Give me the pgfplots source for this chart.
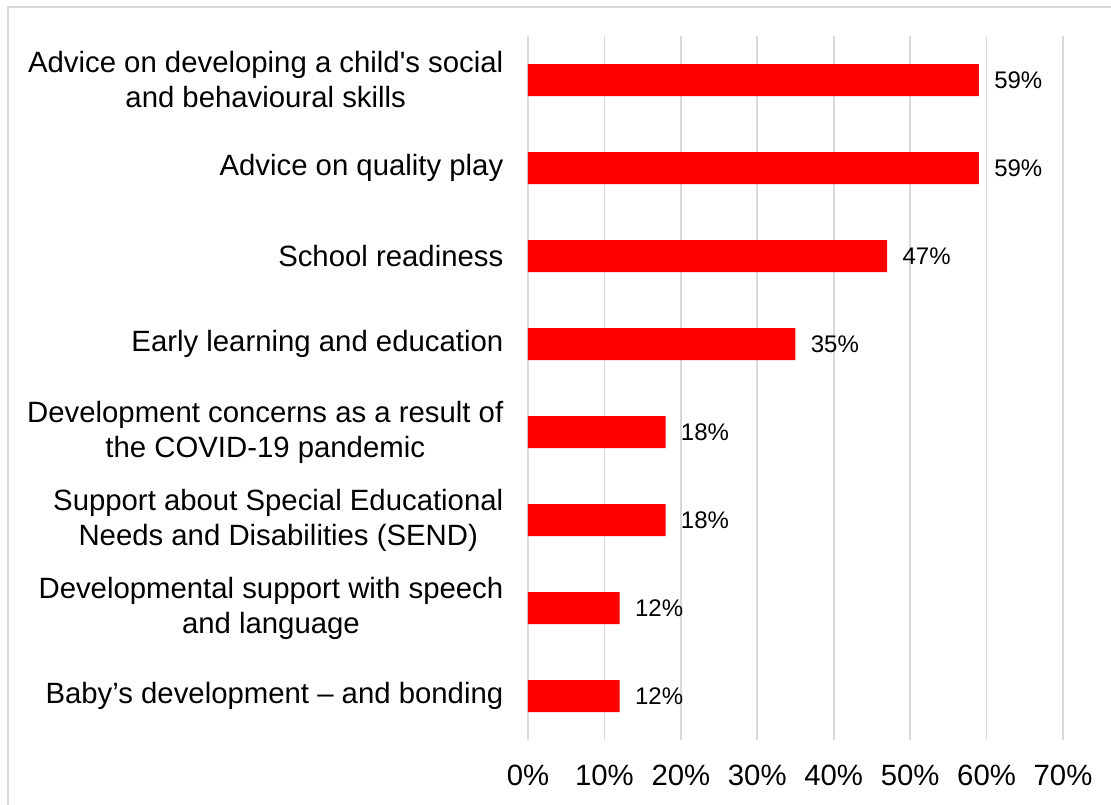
\documentclass[border=0pt]{standalone}
\usepackage{pgfplots}
\pgfplotsset{compat=1.18}
\usepackage{fontspec}
\setmainfont{Liberation Sans}
\definecolor{gridgray}{HTML}{D9D9D9}
\definecolor{barred}{HTML}{FF0000}
\begin{document}
\begin{tikzpicture}
\useasboundingbox (0pt,0pt) rectangle (833.25pt,603.75pt);
\draw[gridgray, line width=1pt] (6pt,0pt) -- (6pt,598.5pt) -- (833.25pt,598.5pt);
\begin{axis}[
  at={(396pt,48.75pt)}, anchor=south west,
  scale only axis,
  width=401.25pt, height=528pt,
  xbar, bar width=24pt,
  xmin=0, xmax=70,
  ymin=-0.5, ymax=7.5,
  y dir=reverse,
  axis line style={draw=none},
  major tick length=0pt,
  xmajorgrids,
  grid style={gridgray, line width=1.3pt},
  xtick={0,10,...,70},
  xticklabels={0\%,10\%,20\%,30\%,40\%,50\%,60\%,70\%},
  xticklabel style={font=\fontsize{22}{25}\selectfont, yshift=-15pt},
  ytick={0,...,7},
  yticklabels={
    {Advice on developing a child\textquotesingle s social\\and behavioural skills},
    {Advice on quality play},
    {School readiness},
    {Early learning and education},
    {Development concerns as a result of\\the COVID-19 pandemic},
    {Support about Special Educational\\Needs and Disabilities (SEND)},
    {Developmental support with speech\\and language},
    {Baby’s development – and bonding}},
  yticklabel style={font=\fontsize{22}{26.25}\selectfont, align=center, anchor=east, xshift=-15pt},
  /pgf/number format/assume math mode=true,
  nodes near coords={\pgfmathprintnumber{\pgfplotspointmeta}\%},
  nodes near coords style={font=\fontsize{18}{21}\selectfont, anchor=west, xshift=8pt, black},
  point meta=explicit,
]
\addplot[fill=barred, draw=none] coordinates {
  (59,0) [59]
  (59,1) [59]
  (47,2) [47]
  (35,3) [35]
  (18,4) [18]
  (18,5) [18]
  (12,6) [12]
  (12,7) [12]
};
\end{axis}
\end{tikzpicture}
\end{document}
